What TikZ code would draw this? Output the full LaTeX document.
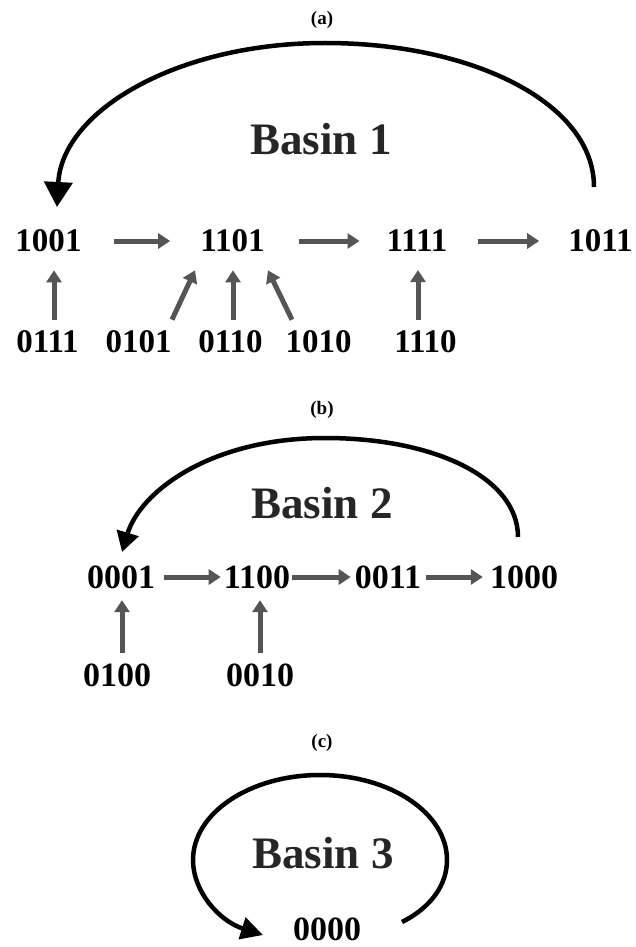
\documentclass[tikz,border=0pt]{standalone}
\usepackage{fontspec}
\setmainfont{Liberation Serif}
\usetikzlibrary{arrows.meta}
\definecolor{flowgray}{RGB}{85,85,85}
\tikzset{
  state/.style={inner sep=0pt, font=\fontsize{33}{33}\selectfont\bfseries},
  stateb/.style={inner sep=0pt, font=\fontsize{34}{34}\selectfont\bfseries},
  basin/.style={inner sep=0pt, font=\fontsize{45}{45}\selectfont\bfseries, text=black!85},
  panel/.style={inner sep=0pt, font=\fontsize{19}{19}\selectfont\bfseries},
  flow/.style={draw=flowgray, line width=5pt, -{Triangle[length=12pt,width=15pt]}},
  loopline/.style={draw=black, line width=4.5pt},
}
\begin{document}
\begin{tikzpicture}[x=1pt,y=-1pt]
\path[use as bounding box] (0,0) rectangle (636,947);

% ---------- (a) Basin 1 ----------
\node[panel] (la) at (322,20) {(a)};
\node[basin] (b1) at (321,139) {Basin 1};
\node[state] (n1001) at (48.5,241) {1001};
\node[state] (n1101) at (232.5,241) {1101};
\node[state] (n1111) at (417,241) {1111};
\node[state] (n1011) at (600.5,241) {1011};
\node[state] (n0111) at (47.5,342) {0111};
\node[state] (n0101) at (138.5,342) {0101};
\node[state] (n0110) at (230.5,342) {0110};
\node[state] (n1010) at (318.5,342) {1010};
\node[state] (n1110) at (425.5,342) {1110};

\draw[flow, shorten <=32pt, shorten >=30pt] (n1001.east) -- (n1101.west);
\draw[flow, shorten <=34pt, shorten >=27pt] (n1101.east) -- (n1111.west);
\draw[flow, shorten <=31pt, shorten >=29pt] (n1111.east) -- (n1011.west);

\draw[flow] ([xshift=6.5pt,yshift=11pt]n0111.north) -- ([xshift=5.5pt,yshift=-18pt]n1001.south);
\draw[flow] ([xshift=33.5pt,yshift=11pt]n0101.north) -- ([xshift=-37.5pt,yshift=-18pt]n1101.south);
\draw[flow] ([xshift=2.5pt,yshift=11pt]n0110.north) -- ([xshift=0.5pt,yshift=-18pt]n1101.south);
\draw[flow] ([xshift=-26.5pt,yshift=11pt]n1010.north) -- ([xshift=35.5pt,yshift=-18pt]n1101.south);
\draw[flow] ([xshift=-7.5pt,yshift=11pt]n1110.north) -- ([xshift=1pt,yshift=-18pt]n1111.south);

\draw[loopline, -{Triangle[length=25pt,width=28pt]}]
  ([xshift=-6.5pt,yshift=54pt]n1011.center)
  .. controls (594,103) and (473,43) .. (325,43)
  .. controls (177,43) and (62,111) .. ([xshift=8.5pt,yshift=34pt]n1001.center);

% ---------- (b) Basin 2 ----------
\node[panel] (lb) at (322,410) {(b)};
\node[basin] (b2) at (322,503) {Basin 2};
\node[stateb] (n0001) at (121,577) {0001};
\node[stateb] (n1100) at (257,577) {1100};
\node[stateb] (n0011) at (388,577) {0011};
\node[stateb] (n1000) at (524,577) {1000};
\node[stateb] (n0100) at (117,675) {0100};
\node[stateb] (n0010) at (260,675) {0010};

\draw[flow, shorten <=9pt, shorten >=3pt] (n0001.east) -- (n1100.west);
\draw[flow, shorten <=2pt, shorten >=4pt] (n1100.east) -- (n0011.west);
\draw[flow, shorten <=5pt, shorten >=7pt] (n0011.east) -- (n1000.west);

\draw[flow] ([xshift=5pt,yshift=10.5pt]n0100.north) -- ([xshift=1pt,yshift=-11.5pt]n0001.south);
\draw[flow] ([xshift=0pt,yshift=10.5pt]n0010.north) -- ([xshift=3pt,yshift=-11.5pt]n1100.south);

\draw[loopline, -{Triangle[length=20pt,width=22pt]}]
  ([xshift=-6pt,yshift=40pt]n1000.center)
  .. controls (518,478) and (435,438) .. (325,438)
  .. controls (210,438) and (140,492) .. ([xshift=1pt,yshift=25pt]n0001.center);

% ---------- (c) Basin 3 ----------
\node[panel] (lc) at (322,743) {(c)};
\node[basin] (b3) at (323,853) {Basin 3};
\node[stateb] (n0000) at (327,929) {0000};

\draw[loopline, -{Triangle[length=22pt,width=22pt]}]
  ([xshift=75pt,yshift=7pt]n0000.center)
  .. controls (431.8,907.1) and (447,884.1) .. (447,860)
  .. controls (447,813) and (390.1,775) .. (320,775)
  .. controls (249.9,775) and (193,813) .. (193,860)
  .. controls (193,892) and (219.7,921.2) .. ([xshift=-64pt,yshift=-6pt]n0000.center);
\end{tikzpicture}
\end{document}
